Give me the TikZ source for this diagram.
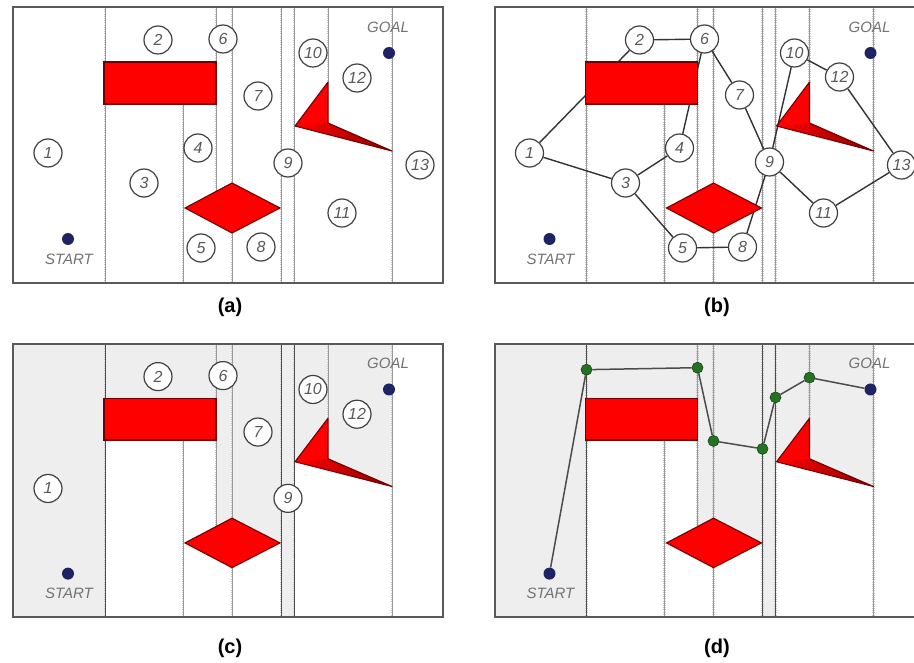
\documentclass[tikz,border=0pt]{standalone}
\usepackage{fontspec}
\setmainfont{Liberation Sans}
\usetikzlibrary{backgrounds}

\definecolor{obst}{RGB}{255,0,0}
\definecolor{obstedge}{RGB}{115,0,0}
\definecolor{navydot}{RGB}{30,35,100}
\definecolor{cellgray}{RGB}{238,238,238}
\definecolor{pathgreen}{RGB}{35,115,35}

\tikzset{
  panelborder/.style={draw=black!65, line width=2pt},
  sweep/.style={draw=black!40, line width=0.6pt},
  sweeptick/.style={draw=black!22, line width=2.6pt, dash pattern=on 0.6pt off 1.6pt},
  sweepdark/.style={draw=black!70, line width=1pt},
  obstacle/.style={fill=obst, draw=obstedge, line width=1.1pt},
  region/.style={circle, draw=black!75, line width=1.2pt, fill=white, minimum size=28pt,
    inner sep=0pt, font=\fontsize{16}{16}\selectfont\itshape, text=black!65},
  endpoint/.style={circle, fill=navydot, minimum size=12pt, inner sep=0pt},
  waypoint/.style={circle, fill=pathgreen, draw=pathgreen!60!black, line width=0.6pt,
    minimum size=11pt, inner sep=0pt},
  tag/.style={font=\fontsize{15}{15}\selectfont\itshape, text=black!55},
  caption/.style={font=\fontsize{20}{20}\selectfont\bfseries},
  link/.style={draw=black!80, line width=1.4pt},
  route/.style={draw=black!70, line width=1.5pt},
}

% free cells that the route passes through
\newcommand\cellshade{%
  \fill[cellgray] (13,7) rectangle (105,283);
  \fill[cellgray] (105,7) rectangle (216,62);
  \fill[cellgray] (216,7) -- (232,7) -- (232,183) -- (216,191.5) -- cycle;
  \fill[cellgray] (232,7) -- (281,7) -- (281,208) -- (232,183) -- cycle;
  \fill[cellgray] (281,7) rectangle (294,283);
  \fill[cellgray] (294,7) -- (328,7) -- (328,82) -- (295,126) -- (294,126) -- cycle;
  \fill[cellgray] (328,7) -- (392,7) -- (392,151) -- (328,123) -- cycle;
}
% vertical sweep lines through the obstacle vertices; #1 styles the three crossed walls
\newcommand\sweeplines[1]{%
  \foreach \xa/\ya/\yb in {183/104/283, 216/7/191, 232/7/183, 232/233/283, 328/7/82, 392/7/283} {
    \draw[sweeptick] (\xa,\ya) -- (\xa,\yb);
    \draw[sweep] (\xa,\ya) -- (\xa,\yb);
  }
  \foreach \xa in {105,281,294} {
    \draw[sweeptick] (\xa,7) -- (\xa,283);
    \draw[#1] (\xa,7) -- (\xa,283);
  }
}
\newcommand\obstacles{%
  \draw[obstacle] (104,62) rectangle (216,104);
  \draw[obstacle] (185,208) -- (232,183) -- (280,208) -- (232,233) -- cycle;
  \fill[obst] (295,126) -- (328,82) -- (328,123) -- (392,151) -- cycle;
  \shade[left color=obst, right color=obst!55!black] (297,126.5) -- (328,123) -- (392,151) -- cycle;
  \draw[obstedge, line width=1.1pt, line join=round] (295,126) -- (328,82) -- (328,123) -- (392,151) -- cycle;
}
\newcommand\startgoal[1]{%
  \node[endpoint] (#1start) at (68,239) {};
  \node[tag] (#1startlabel) at (69,259) {START};
  \node[endpoint] (#1goal) at (389,53) {};
  \node[tag] (#1goallabel) at (388,27) {GOAL};
}
\newcommand\panelframe{\draw[panelborder] (13,7) rectangle (443,283);}

\begin{document}
\begin{tikzpicture}[x=1pt,y=-1pt]
\useasboundingbox (0,0) rectangle (914,663);
\begin{pgfonlayer}{background}
  \fill[white] (0,0) rectangle (914,663);
\end{pgfonlayer}

% (a) trapezoidal decomposition with numbered cells
\begin{scope}
  \sweeplines{sweep}
  \obstacles
  \panelframe
  \startgoal{a}
  \foreach \n/\x/\y in {1/48/153, 2/158/40, 3/144/183, 4/198/148, 5/201/248, 6/223/39,
      7/258/96, 8/261/247, 9/288/163, 10/313/53, 11/342/213, 12/357/78, 13/420/165}
    \node[region] (a\n) at (\x,\y) {\n};
\end{scope}
\node[caption] (capa) at (230,307) {(a)};

% (b) connectivity graph of the cells
\begin{scope}[shift={(481.5,0)}]
  \startgoal{b}
  \foreach \n/\x/\y in {1/48/153, 2/158/40, 3/144/183, 4/198/148, 5/201/248, 6/223/39,
      7/258/95, 8/261/247, 9/288/162, 10/313/53, 11/342/213, 12/358/77, 13/420/165}
    \node[region] (b\n) at (\x,\y) {\n};
  \begin{pgfonlayer}{background}
    \sweeplines{sweep}
    \foreach \u/\v in {1/2, 2/6, 6/4, 6/7, 1/3, 3/4, 3/5, 5/8, 8/9, 7/9, 9/10, 10/12, 12/13, 13/11, 11/9}
      \draw[link] (b\u) -- (b\v);
    \obstacles
    \panelframe
  \end{pgfonlayer}
\end{scope}
\node[caption] (capb) at (717,307) {(b)};

% (c) cells along the path from START to GOAL
\begin{scope}[shift={(0,337)}, yscale=0.99]
  \cellshade
  \sweeplines{sweepdark}
  \obstacles
  \panelframe
  \startgoal{c}
  \foreach \n/\x/\y in {1/48/153, 2/158/40, 6/223/39, 7/258/96, 9/288/163, 10/313/53, 12/357/78}
    \node[region] (c\n) at (\x,\y) {\n};
\end{scope}
\node[caption] (capc) at (230,648) {(c)};

% (d) path through the midpoints of the crossed cell walls
\begin{scope}[shift={(481.5,337)}, yscale=0.99]
  \startgoal{d}
  \foreach \n/\x/\y in {1/105/33, 2/216/31, 3/232/105, 4/281/113, 5/294/61, 6/328/41}
    \node[waypoint] (dp\n) at (\x,\y) {};
  \begin{pgfonlayer}{background}
    \cellshade
    \sweeplines{sweepdark}
    \obstacles
    \panelframe
    \draw[route] (dstart) -- (dp1) -- (dp2) -- (dp3) -- (dp4) -- (dp5) -- (dp6) -- (dgoal);
  \end{pgfonlayer}
\end{scope}
\node[caption] (capd) at (717,648) {(d)};
\end{tikzpicture}
\end{document}
